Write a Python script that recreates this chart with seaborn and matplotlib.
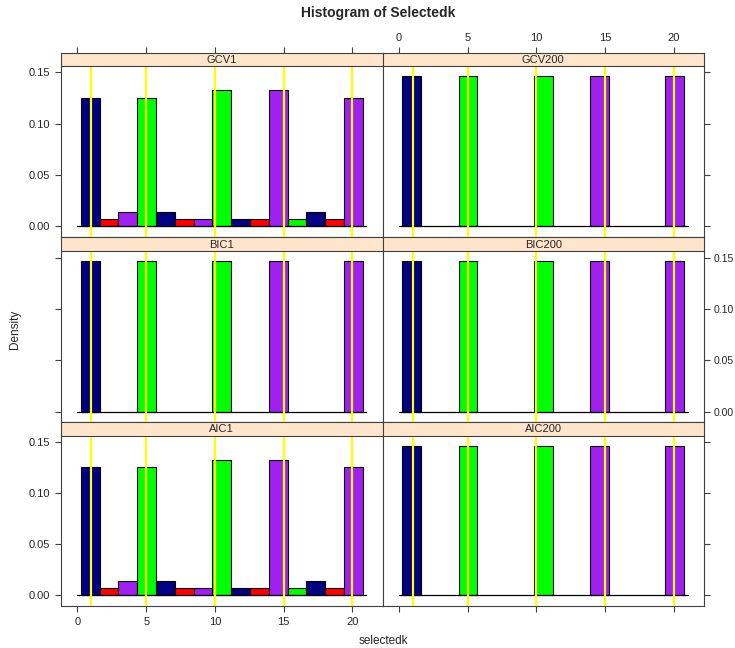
import numpy as np
import pandas as pd
import matplotlib
matplotlib.use("Agg")
import matplotlib.pyplot as plt
import seaborn as sns

sns.set_style("white")
plt.rcParams["font.family"] = ["Liberation Sans", "DejaVu Sans"]

# Histogram breaks (15 equal-width bins)
break_lo, break_hi, n_bins = 0.24, 20.76, 15
edges = np.linspace(break_lo, break_hi, n_bins + 1)
centers = (edges[:-1] + edges[1:]) / 2

# Selected-k counts per bin for each criterion
gcv1_counts = [18, 1, 2, 18, 2, 1, 1, 19, 1, 1, 19, 1, 2, 1, 18]
bic1_counts = [20, 0, 0, 20, 0, 0, 0, 20, 0, 0, 20, 0, 0, 0, 20]
aic1_counts = [18, 1, 2, 18, 2, 1, 1, 19, 1, 1, 19, 1, 2, 1, 18]
gcv200_counts = [20, 0, 0, 20, 0, 0, 0, 20, 0, 0, 20, 0, 0, 0, 20]
bic200_counts = [20, 0, 0, 20, 0, 0, 0, 20, 0, 0, 20, 0, 0, 0, 20]
aic200_counts = [20, 0, 0, 20, 0, 0, 0, 20, 0, 0, 20, 0, 0, 0, 20]

# True k values (reference lines)
true_k = [1, 5, 10, 15, 20]

bar_colors = ["#000080", "#FF0000", "#A020F0", "#00FF00"]
x_ticks = [0, 5, 10, 15, 20]
y_ticks = [0.00, 0.05, 0.10, 0.15]
xlim = (-1.2, 22.2)
ylim = (-0.0102, 0.1564)

panels = [
    ("GCV1", gcv1_counts, 0, 0),
    ("GCV200", gcv200_counts, 0, 1),
    ("BIC1", bic1_counts, 1, 0),
    ("BIC200", bic200_counts, 1, 1),
    ("AIC1", aic1_counts, 2, 0),
    ("AIC200", aic200_counts, 2, 1),
]

W, H = 735, 648
fig = plt.figure(figsize=(W / 100, H / 100), dpi=100)


def frame(x0, y0, x1, y1):
    return [x0 / W, 1 - y1 / H, (x1 - x0) / W, (y1 - y0) / H]


col_x = [(61.0, 382.5), (382.5, 704.0)]
row_y = [(52.7, 65.7, 236.7), (236.7, 251.0, 422.0), (422.0, 435.5, 605.5)]
edge_col = "#404040"
text_col = "#262626"
tick_fs = 8

for name, counts, r, c in panels:
    x0, x1 = col_x[c]
    s0, p0, p1 = row_y[r]
    ax = fig.add_axes(frame(x0, p0, x1, p1))
    df = pd.DataFrame({"selectedk": centers, "n": np.asarray(counts, float)})
    sns.histplot(data=df, x="selectedk", weights="n", bins=list(edges),
                 stat="density", ax=ax, color=bar_colors[0],
                 edgecolor="black", linewidth=0.8, alpha=1)
    for i, p in enumerate(ax.patches):
        p.set_facecolor(bar_colors[i % len(bar_colors)])
        if p.get_height() <= 0:
            p.set_visible(False)
    ax.plot([0, 21], [0, 0], color="black", lw=0.9, zorder=3)
    for k in true_k:
        ax.axvline(k, color="#FFFF00", lw=1.6, zorder=4)
    ax.set_xlim(*xlim)
    ax.set_ylim(*ylim)
    ax.set_xlabel("")
    ax.set_ylabel("")
    for sp in ax.spines.values():
        sp.set_color(edge_col)
        sp.set_linewidth(0.8)
    ax.spines["top"].set_visible(False)

    ax.set_xticks(x_ticks)
    ax.set_yticks(y_ticks)
    ax.yaxis.set_major_formatter(matplotlib.ticker.FormatStrFormatter("%.2f"))
    ax.tick_params(direction="out", length=4, width=0.8, color=edge_col,
                   labelsize=tick_fs, pad=4, labelcolor=text_col)
    # x axis: only on bottom row
    if r == 2:
        ax.tick_params(axis="x", bottom=True, top=False,
                       labelbottom=(c == 0), labeltop=False)
    else:
        ax.tick_params(axis="x", bottom=False, top=False,
                       labelbottom=False, labeltop=False)
    # y axis: left column on left, right column on right, alternating labels
    if c == 0:
        ax.tick_params(axis="y", left=True, right=False,
                       labelleft=(r != 1), labelright=False)
    else:
        ax.tick_params(axis="y", left=False, right=True,
                       labelleft=False, labelright=(r == 1),
                       labelsize=7.5, pad=3)

    # strip
    sax = fig.add_axes(frame(x0, s0, x1, p0))
    sax.set_facecolor("#FFE5CC")
    sax.set_xlim(*xlim)
    sax.set_ylim(0, 1)
    sax.set_yticks([])
    for sp in sax.spines.values():
        sp.set_color(edge_col)
        sp.set_linewidth(0.8)
    sax.text(0.5, 0.45, name, transform=sax.transAxes, ha="center",
             va="center", fontsize=8, color=text_col)
    if r == 0:
        sax.set_xticks(x_ticks)
        sax.tick_params(axis="x", bottom=False, top=True, labelbottom=False,
                        labeltop=(c == 1), direction="out", length=4,
                        width=0.8, color=edge_col, labelsize=tick_fs, pad=3,
                        labelcolor=text_col)
    else:
        sax.set_xticks([])

fig.text(378 / W, 1 - 13 / H, "Histogram of Selectedk", ha="center",
         va="center", fontsize=10, fontweight="bold")
fig.text(383 / W, 1 - 641 / H, "selectedk", ha="center", va="center",
         fontsize=8.5, color=text_col)
fig.text(15 / W, 1 - 329 / H, "Density", ha="center", va="center",
         rotation=90, fontsize=8.5, color=text_col)

fig.savefig("out.png", dpi=100, facecolor="white")
